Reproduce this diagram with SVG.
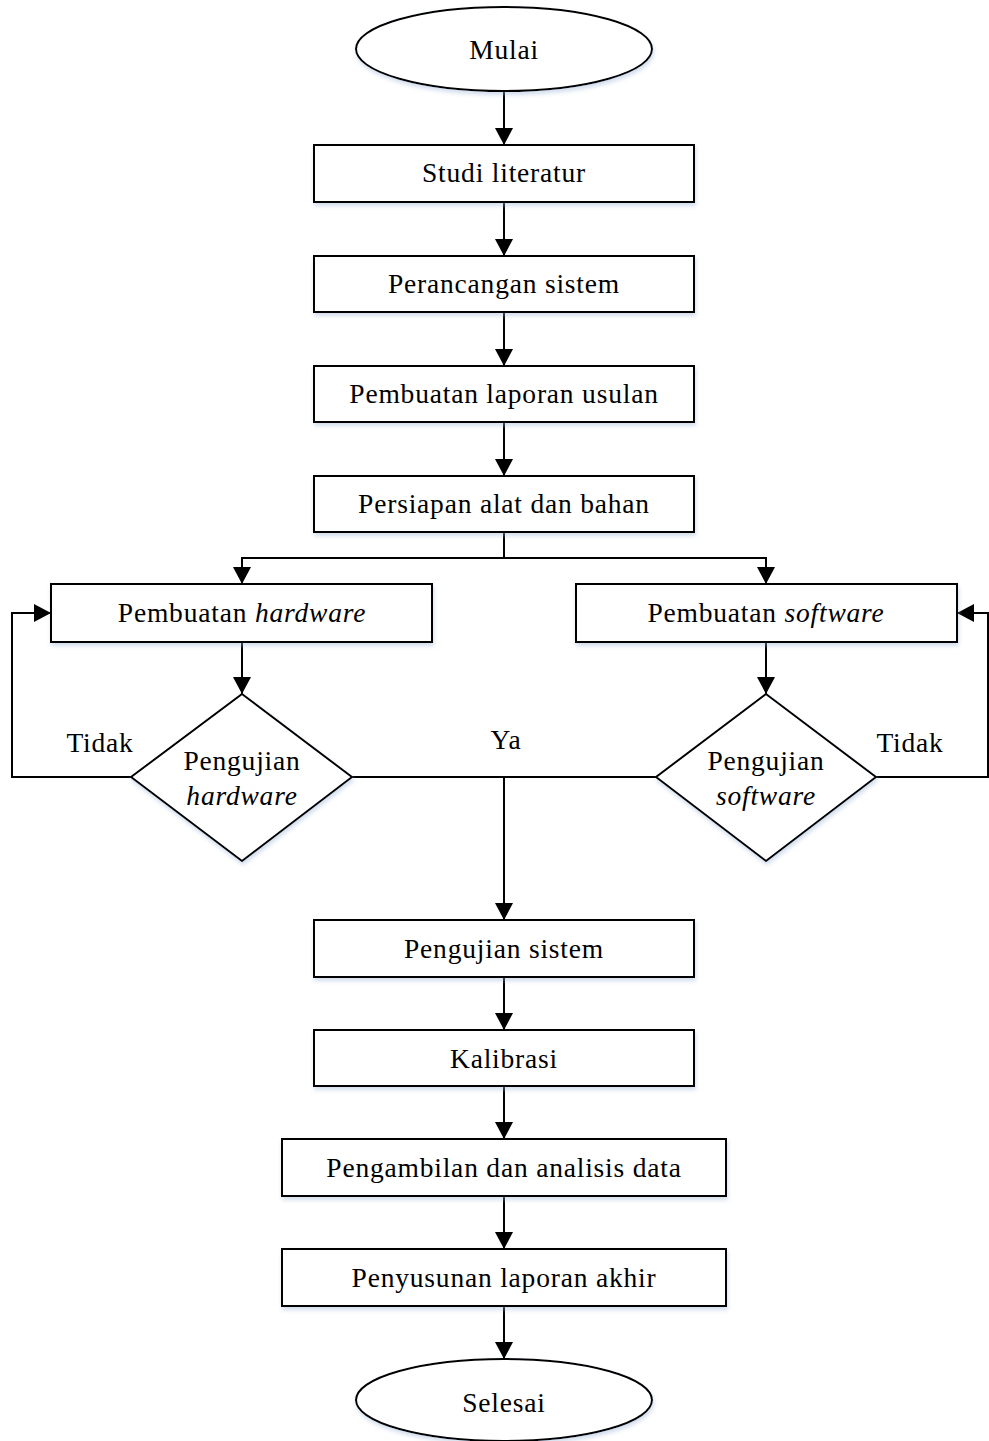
<svg xmlns="http://www.w3.org/2000/svg" width="989" height="1441" viewBox="0 0 989 1441" font-family="'Liberation Serif', 'Times New Roman', Times, serif">
<style>
.s{fill:#fff;stroke:#000;stroke-width:2;filter:url(#sh)}
.t{font-family:'Liberation Serif','Times New Roman',Times,serif;font-size:27.5px;fill:#000;text-anchor:middle;letter-spacing:0.8px}
.i{font-style:italic}
.c{fill:none;stroke:#000;stroke-width:2}
</style>
<defs>
<filter id="sh" x="-10%" y="-10%" width="130%" height="140%">
<feDropShadow dx="1" dy="3" stdDeviation="2" flood-color="#9bb4d6" flood-opacity="0.45"/>
</filter>
<marker id="a" markerUnits="userSpaceOnUse" markerWidth="18" markerHeight="18" refX="17" refY="9" orient="auto">
<path d="M0,0 L17,9 L0,18 z" fill="#000"/>
</marker>
</defs>
<g id="connectors" class="c">
<path d="M504,91 V145" marker-end="url(#a)"/>
<path d="M504,202 V256" marker-end="url(#a)"/>
<path d="M504,312 V366" marker-end="url(#a)"/>
<path d="M504,422 V476" marker-end="url(#a)"/>
<path d="M504,532 V558 H242 V584" marker-end="url(#a)"/>
<path d="M504,558 H766 V584" marker-end="url(#a)"/>
<path d="M242,642 V694" marker-end="url(#a)"/>
<path d="M766,642 V694" marker-end="url(#a)"/>
<path d="M131,777 H12 V613 H51" marker-end="url(#a)"/>
<path d="M876,777 H988 V613 H957" marker-end="url(#a)"/>
<path d="M352,777 H656"/>
<path d="M504,777 V920" marker-end="url(#a)"/>
<path d="M504,977 V1030" marker-end="url(#a)"/>
<path d="M504,1086 V1139" marker-end="url(#a)"/>
<path d="M504,1196 V1249" marker-end="url(#a)"/>
<path d="M504,1306 V1359" marker-end="url(#a)"/>
</g>
<g id="mulai"><ellipse class="s" cx="504" cy="49" rx="148" ry="42"/><text class="t" x="504" y="59">Mulai</text></g>
<g id="studi"><rect class="s" x="314" y="145" width="380" height="57"/><text class="t" x="504" y="182">Studi literatur</text></g>
<g id="perancangan"><rect class="s" x="314" y="256" width="380" height="56"/><text class="t" x="504" y="293">Perancangan sistem</text></g>
<g id="laporan-usulan"><rect class="s" x="314" y="366" width="380" height="56"/><text class="t" x="504" y="403">Pembuatan laporan usulan</text></g>
<g id="persiapan"><rect class="s" x="314" y="476" width="380" height="56"/><text class="t" x="504" y="513">Persiapan alat dan bahan</text></g>
<g id="hardware"><rect class="s" x="51" y="584" width="381" height="58"/><text class="t" x="242" y="622">Pembuatan <tspan class="i">hardware</tspan></text></g>
<g id="software"><rect class="s" x="576" y="584" width="381" height="58"/><text class="t" x="766" y="622">Pembuatan <tspan class="i">software</tspan></text></g>
<g id="uji-hardware"><path class="s" d="M242,694 L352,777 L242,861 L131,777 z"/><text class="t" x="242" y="770">Pengujian</text><text class="t i" x="242" y="805">hardware</text></g>
<g id="uji-software"><path class="s" d="M766,694 L876,777 L766,861 L656,777 z"/><text class="t" x="766" y="770">Pengujian</text><text class="t i" x="766" y="805">software</text></g>
<g id="labels">
<text class="t" x="100" y="752">Tidak</text>
<text class="t" x="910" y="752">Tidak</text>
<text class="t" x="506" y="749">Ya</text>
</g>
<g id="uji-sistem"><rect class="s" x="314" y="920" width="380" height="57"/><text class="t" x="504" y="958">Pengujian sistem</text></g>
<g id="kalibrasi"><rect class="s" x="314" y="1030" width="380" height="56"/><text class="t" x="504" y="1068">Kalibrasi</text></g>
<g id="pengambilan"><rect class="s" x="282" y="1139" width="444" height="57"/><text class="t" x="504" y="1177">Pengambilan dan analisis data</text></g>
<g id="penyusunan"><rect class="s" x="282" y="1249" width="444" height="57"/><text class="t" x="504" y="1287">Penyusunan laporan akhir</text></g>
<g id="selesai"><ellipse class="s" cx="504" cy="1400" rx="148" ry="41"/><text class="t" x="504" y="1412">Selesai</text></g>
</svg>
